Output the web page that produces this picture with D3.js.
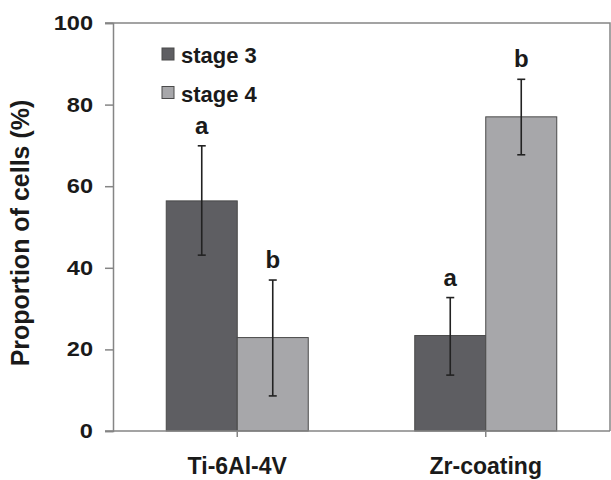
<!DOCTYPE html>
<html>
<head>
<meta charset="utf-8">
<script src="https://cdn.jsdelivr.net/npm/d3@7"></script>
<style>
  body { margin: 0; background: #fff; }
  svg text { font-family: "Liberation Sans", Arial, sans-serif; font-weight: bold; fill: #1a1a1a; }
</style>
</head>
<body>
<svg id="chart" width="611" height="480"></svg>
<script>
// chart data
const categories = ["Ti-6Al-4V", "Zr-coating"];
const seriesNames = ["stage 3", "stage 4"];
const stage3Values = [56.4, 23.4];
const stage4Values = [22.9, 77.0];
const stage3Err = [[43.1, 69.9], [13.7, 32.7]];   // [low, high]
const stage4Err = [[8.6, 37.0], [67.7, 86.2]];
const stage3Letters = ["a", "a"];
const stage4Letters = ["b", "b"];
const yTicks = [0, 20, 40, 60, 80, 100];

const colors = { "stage 3": "#5e5e62", "stage 4": "#a7a7aa" };

// flatten into rows for the join
const rows = [];
categories.forEach((c, i) => {
  rows.push({ cat: c, series: "stage 3", value: stage3Values[i], err: stage3Err[i], letter: stage3Letters[i] });
  rows.push({ cat: c, series: "stage 4", value: stage4Values[i], err: stage4Err[i], letter: stage4Letters[i] });
});

const margin = { top: 23, right: 1, bottom: 49, left: 113 };
const width = 611 - margin.left - margin.right;
const height = 480 - margin.top - margin.bottom;

const svg = d3.select("#chart");
const g = svg.append("g").attr("transform", `translate(${margin.left},${margin.top})`);

const x0 = d3.scaleBand().domain(categories).range([0, width]).padding(0);
const x1 = d3.scaleBand().domain(seriesNames).range([0, x0.bandwidth()])
  .paddingInner(0).paddingOuter(0.75);
const y = d3.scaleLinear().domain([0, 100]).range([height, 0]);

// plot frame (top + right)
g.append("path")
  .attr("d", `M${-8},0H${width}V${height}`)
  .attr("fill", "none").attr("stroke", "#858585").attr("stroke-width", 1.5);

// bars
g.selectAll(".bar")
  .data(rows)
  .join("rect")
    .attr("class", "bar")
    .attr("x", d => x0(d.cat) + x1(d.series))
    .attr("y", d => y(d.value))
    .attr("width", x1.bandwidth())
    .attr("height", d => height - y(d.value))
    .attr("fill", d => colors[d.series])
    .attr("stroke", "#4a4a4a")
    .attr("stroke-width", 1);

// error bars
const cx = d => x0(d.cat) + x1(d.series) + x1.bandwidth() / 2;
const eb = g.selectAll(".err").data(rows).join("g").attr("class", "err")
  .attr("stroke", "#222").attr("stroke-width", 1.6);
eb.append("line").attr("x1", cx).attr("x2", cx)
  .attr("y1", d => y(d.err[0])).attr("y2", d => y(d.err[1]));
eb.append("line").attr("x1", d => cx(d) - 4).attr("x2", d => cx(d) + 4)
  .attr("y1", d => y(d.err[1])).attr("y2", d => y(d.err[1]));
eb.append("line").attr("x1", d => cx(d) - 4).attr("x2", d => cx(d) + 4)
  .attr("y1", d => y(d.err[0])).attr("y2", d => y(d.err[0]));

// significance letters
g.selectAll(".letter").data(rows).join("text")
  .attr("class", "letter")
  .attr("x", cx)
  .attr("y", d => y(d.err[1]) - 12)
  .attr("text-anchor", "middle")
  .style("font-size", "24px")
  .text(d => d.letter);

// y axis
const yAxis = g.append("g")
  .call(d3.axisLeft(y).tickValues(yTicks).tickSize(8).tickPadding(12).tickFormat(d3.format("d")));
yAxis.select(".domain").attr("stroke", "#858585").attr("stroke-width", 1.5);
yAxis.selectAll(".tick line").attr("stroke", "#858585").attr("stroke-width", 1.5);
// digits in the original are drawn wide, so stretch them a bit
const stretch = 1.18;
yAxis.selectAll(".tick text")
  .style("font-size", "20px").style("font-family", "Liberation Sans, Arial, sans-serif")
  .style("font-weight", "bold").attr("fill", "#1a1a1a")
  .attr("x", -20 / stretch)
  .attr("transform", `scale(${stretch},1)`);

// x axis
const xAxis = g.append("g")
  .attr("transform", `translate(0,${height})`)
  .call(d3.axisBottom(x0).tickSize(6).tickSizeOuter(0));
xAxis.select(".domain").attr("stroke", "#858585").attr("stroke-width", 1.5)
  .attr("d", `M-8,0H${width}`);
xAxis.selectAll(".tick line").attr("stroke", "#858585").attr("stroke-width", 1.5);
xAxis.selectAll(".tick text")
  .style("font-size", "23px").style("font-family", "Liberation Sans, Arial, sans-serif")
  .style("font-weight", "bold").attr("fill", "#1a1a1a")
  .attr("y", 43).attr("dy", 0);

// y axis title
svg.append("text")
  .attr("transform", `translate(29,233) rotate(-90)`)
  .attr("text-anchor", "middle")
  .style("font-size", "25px")
  .text("Proportion of cells (%)");

// legend
const legend = svg.append("g").attr("transform", "translate(162,48)");
const li = legend.selectAll("g").data(seriesNames).join("g")
  .attr("transform", (d, i) => `translate(0,${i * 38.5})`);
li.append("rect").attr("width", 12).attr("height", 12)
  .attr("fill", d => colors[d]).attr("stroke", "#4a4a4a").attr("stroke-width", 1);
li.append("text").attr("x", 19).attr("y", 15)
  .style("font-size", "22px")
  .text(d => d);
</script>
</body>
</html>
